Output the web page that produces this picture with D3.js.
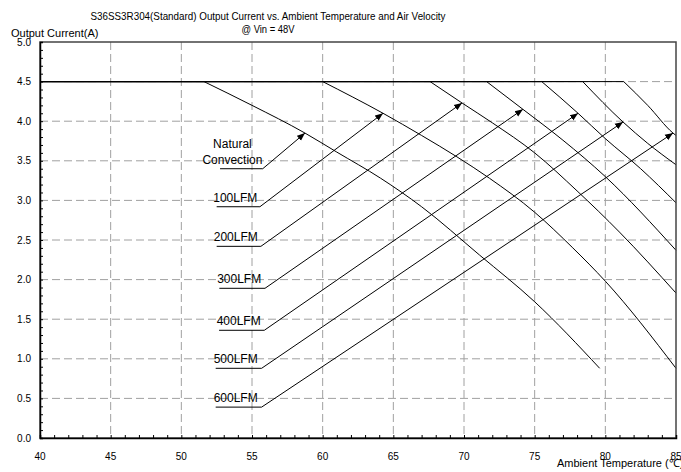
<!DOCTYPE html>
<html>
<head>
<meta charset="utf-8">
<script src="https://cdn.jsdelivr.net/npm/d3@7"></script>
<style>
  body { margin: 0; background: #fff; }
  svg { display: block; font-family: "Liberation Sans", Arial, sans-serif; }
  .grid line { stroke: #a0a0a0; stroke-dasharray: 8,4; }
  .curve { fill: none; stroke: #000; stroke-width: 1; }
  .leader { fill: none; stroke: #000; stroke-width: 1; }
</style>
</head>
<body>
<svg id="chart" width="681" height="472"></svg>
<script>
const titleLines = ["S36SS3R304(Standard) Output Current vs. Ambient Temperature and Air Velocity",
                    "@ Vin = 48V"];
const titleWidths = [355, 53];
const xTicks = [40, 45, 50, 55, 60, 65, 70, 75, 80, 85];
const yTicks = [0, 0.5, 1, 1.5, 2, 2.5, 3, 3.5, 4, 4.5, 5];

const seriesNames = ["Natural Convection", "100LFM", "200LFM", "300LFM", "400LFM", "500LFM", "600LFM"];

// [ambient temp C, output current A]
const natural = [[40, 4.5], [51.6, 4.5], [55, 4.2], [58.75, 3.85], [61, 3.61], [64.1, 3.28],
                 [67, 2.92], [71.1, 2.31], [75, 1.72], [79.6, 0.88]];
const lfm100 = [[40, 4.5], [60.0, 4.5], [64.27, 4.10], [67, 3.82], [69.5, 3.55], [71.8, 3.28],
                [75, 2.85], [77.7, 2.4], [80, 1.98], [85, 0.88]];
const lfm200 = [[40, 4.5], [67.6, 4.5], [69.86, 4.23], [72, 3.98], [75, 3.6], [78, 3.12],
                [81, 2.6], [85, 1.83]];
const lfm300 = [[40, 4.5], [71.6, 4.5], [74.17, 4.15], [77, 3.76], [80, 3.3], [85, 2.37]];
const lfm400 = [[40, 4.5], [75.5, 4.5], [78.07, 4.10], [80, 3.78], [82.5, 3.4], [85, 2.97]];
const lfm500 = [[40, 4.5], [78.4, 4.5], [81.25, 3.99], [83, 3.72], [85, 3.45]];
const lfm600 = [[40, 4.5], [81.3, 4.5], [83, 4.2], [84.79, 3.85], [85, 3.82]];
const allSeries = [natural, lfm100, lfm200, lfm300, lfm400, lfm500, lfm600];

// callouts: text lines, underline [tLeft, tRight, current], arrow tip [temp, current]
const labelLines = [["Natural", "Convection"], ["100LFM"], ["200LFM"], ["300LFM"],
                    ["400LFM"], ["500LFM"], ["600LFM"]];
const labelBase = [[52.74, 55.76, 3.40], [52.5, 55.56, 2.92], [52.5, 55.63, 2.42],
                   [52.69, 55.92, 1.89], [52.67, 55.87, 1.36], [52.43, 55.68, 0.88],
                   [52.43, 55.68, 0.39]];
const arrowTips = [[58.75, 3.85], [64.27, 4.10], [69.86, 4.23], [74.17, 4.15],
                   [78.07, 4.10], [81.25, 3.99], [84.79, 3.85]];

const W = 681, H = 472;
const plot = { left: 40, right: 676, top: 42, bottom: 438 };

const x = d3.scaleLinear([40, 85], [plot.left, plot.right]);
const y = d3.scaleLinear([0, 5], [plot.bottom, plot.top]);

const svg = d3.select("#chart");

// title
svg.append("g").selectAll("text")
   .data(titleLines)
   .join("text")
   .attr("x", 268)
   .attr("y", (d, i) => 20 + i * 13)
   .attr("text-anchor", "middle")
   .attr("font-size", 11.5)
   .attr("textLength", (d, i) => titleWidths[i])
   .attr("lengthAdjust", "spacingAndGlyphs")
   .text(d => d);

svg.append("text")
   .attr("x", 11).attr("y", 37)
   .attr("font-size", 11)
   .text("Output Current(A)");

// grid
const grid = svg.append("g").attr("class", "grid");
grid.selectAll(".gx")
    .data(xTicks.slice(1, -1))
    .join("line")
    .attr("x1", d => x(d)).attr("x2", d => x(d))
    .attr("y1", plot.top).attr("y2", plot.bottom);
grid.selectAll(".gy")
    .data(yTicks.slice(1, -1))
    .join("line")
    .attr("x1", plot.left).attr("x2", plot.right)
    .attr("y1", d => y(d)).attr("y2", d => y(d));

// curves: flat limit, then the derating bend
const flat = d3.line().x(d => x(d[0])).y(d => y(d[1]));
const bend = d3.line().x(d => x(d[0])).y(d => y(d[1])).curve(d3.curveMonotoneX);
const curves = svg.append("g");
allSeries.forEach(s => {
  curves.append("path").attr("class", "curve").attr("d", flat(s.slice(0, 2)));
  curves.append("path").attr("class", "curve").attr("d", bend(s.slice(1)));
});

// frame
svg.append("rect")
   .attr("x", plot.left).attr("y", plot.top)
   .attr("width", plot.right - plot.left).attr("height", plot.bottom - plot.top)
   .attr("fill", "none").attr("stroke", "#444").attr("stroke-width", 1.5);

// axes, ticks pointing inward
const xAxis = d3.axisTop(x)
                .tickValues(d3.range(40, 86, 1))
                .tickSize(3)
                .tickFormat("");
svg.append("g")
   .attr("transform", `translate(0,${plot.bottom})`)
   .call(xAxis)
   .call(g => g.select(".domain").attr("stroke-width", 1.5));

const yAxis = d3.axisRight(y)
                .tickValues(d3.range(0, 51, 1).map(v => v / 10))
                .tickSize(3)
                .tickFormat("");
svg.append("g")
   .attr("transform", `translate(${plot.left},0)`)
   .call(yAxis)
   .call(g => g.select(".domain").attr("stroke-width", 1.5));

// tick labels
svg.append("g").selectAll("text")
   .data(xTicks)
   .join("text")
   .attr("x", d => x(d))
   .attr("y", 460)
   .attr("text-anchor", "middle")
   .attr("font-size", 10)
   .text(d => d);

svg.append("g").selectAll("text")
   .data(yTicks)
   .join("text")
   .attr("x", 31)
   .attr("y", d => y(d) + 3.5)
   .attr("text-anchor", "end")
   .attr("font-size", 10)
   .text(d => d3.format(".1f")(d));

svg.append("text")
   .attr("x", 557).attr("y", 467)
   .attr("font-size", 11)
   .text("Ambient Temperature (\u2103)");

// callouts
svg.append("defs").append("marker")
   .attr("id", "arrow")
   .attr("viewBox", "0 0 10 10")
   .attr("refX", 10).attr("refY", 5)
   .attr("markerWidth", 8).attr("markerHeight", 8)
   .attr("markerUnits", "userSpaceOnUse")
   .attr("orient", "auto")
   .append("path")
   .attr("d", "M0,1 L10,5 L0,9 Z")
   .attr("fill", "#000");

const callouts = svg.append("g");
labelLines.forEach((lines, i) => {
  const [t0, t1, c] = labelBase[i];
  const [tx, tc] = arrowTips[i];
  callouts.append("path")
          .attr("class", "leader")
          .attr("d", `M${x(t0)},${y(c)}L${x(t1)},${y(c)}L${x(tx)},${y(tc)}`)
          .attr("marker-end", "url(#arrow)");
  const cx = (x(t0) + x(t1)) / 2 + (i === 0 ? -9 : -3);
  lines.forEach((ln, j) => {
    callouts.append("text")
            .attr("x", cx)
            .attr("y", y(c) - 5 - (lines.length - 1 - j) * 16)
            .attr("text-anchor", "middle")
            .attr("font-size", 12)
            .text(ln);
  });
});
</script>
</body>
</html>
